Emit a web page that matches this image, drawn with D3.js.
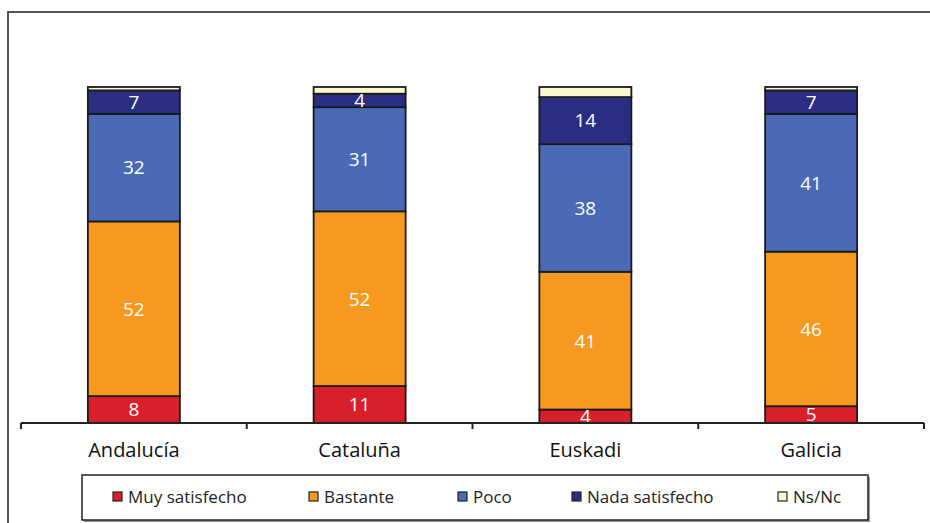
<!DOCTYPE html>
<html>
<head>
<meta charset="utf-8">
<script src="https://cdn.jsdelivr.net/npm/d3@7"></script>
<style>
  html, body { margin: 0; padding: 0; background: #fff; }
  svg { display: block; }
</style>
</head>
<body>
<svg id="chart" width="930" height="523"></svg>
<script>
const categories = ["Andalucía", "Cataluña", "Euskadi", "Galicia"];
const seriesNames = ["Muy satisfecho", "Bastante", "Poco", "Nada satisfecho", "Ns/Nc"];
const muySatisfecho = [8, 11, 4, 5];
const bastante = [52, 52, 41, 46];
const poco = [32, 31, 38, 41];
const nadaSatisfecho = [7, 4, 14, 7];
const nsNc = [1, 2, 3, 1];
const seriesColors = ["#d9202a", "#f7981f", "#4a6ab5", "#2b2d83", "#fbf7cf"];
const yTicks = [0, 100];

const seriesValues = [muySatisfecho, bastante, poco, nadaSatisfecho, nsNc];
const table = categories.map((c, i) => {
  const row = { cat: c };
  seriesNames.forEach((s, k) => row[s] = seriesValues[k][i]);
  return row;
});

const svg = d3.select("#chart");
const x0 = 21, x1 = 924, yBase = 423, yTop = 87;

const x = d3.scaleBand().domain(categories).range([x0, x1]).paddingInner(0).paddingOuter(0);
const y = d3.scaleLinear().domain(d3.extent(yTicks)).range([yBase, yTop]);
const barW = 92;

// outer frame
svg.append("path")
  .attr("d", `M8,523 L8,12 L930,12`)
  .attr("fill", "none").attr("stroke", "#555").attr("stroke-width", 2);

const stack = d3.stack().keys(seriesNames)(table);

const g = svg.append("g");
stack.forEach((layer, k) => {
  g.selectAll(null).data(layer).enter().append("rect")
    .attr("x", d => x(d.data.cat) + x.bandwidth() / 2 - barW / 2)
    .attr("y", d => y(d[1]))
    .attr("width", barW)
    .attr("height", d => y(d[0]) - y(d[1]))
    .attr("fill", seriesColors[k])
    .attr("stroke", "#1a1a1a")
    .attr("stroke-width", 1.8);
});

// value labels
stack.forEach((layer, k) => {
  if (seriesNames[k] === "Ns/Nc") return;
  g.selectAll(null).data(layer).enter().append("text")
    .attr("x", d => x(d.data.cat) + x.bandwidth() / 2)
    .attr("y", d => (y(d[0]) + y(d[1])) / 2)
    .attr("dy", "0.36em")
    .attr("text-anchor", "middle")
    .attr("fill", "#fff")
    .style("font-family", "'Open Sans', 'Noto Sans', sans-serif")
    .style("font-size", "19px")
    .text(d => d[1] - d[0]);
});

// x axis
const axis = d3.axisBottom(x).tickSize(0).tickFormat(d => d);
const ax = svg.append("g").attr("transform", `translate(0,${yBase})`).call(axis);
ax.select(".domain").attr("stroke", "#222").attr("stroke-width", 2).attr("d", `M${x0},0H${x1}`);
ax.selectAll(".tick text")
  .attr("y", 34)
  .attr("dy", 0)
  .attr("fill", "#111")
  .style("font-family", "'Open Sans', 'Noto Sans', sans-serif")
  .style("font-weight", "500")
  .style("font-size", "20px");
// boundary ticks
const bounds = categories.map(c => x(c)).concat([x(categories[categories.length - 1]) + x.bandwidth()]);
ax.selectAll(".btick").data(bounds).enter().append("line")
  .attr("class", "btick")
  .attr("x1", d => d).attr("x2", d => d)
  .attr("y1", 0).attr("y2", 6)
  .attr("stroke", "#222").attr("stroke-width", 2);

// legend
const lg = svg.append("g");
const lx = 82, ly = 475, lw = 786, lh = 45;
lg.append("rect").attr("x", lx + 2).attr("y", ly + 2).attr("width", lw).attr("height", lh)
  .attr("fill", "#999");
lg.append("rect").attr("x", lx).attr("y", ly).attr("width", lw).attr("height", lh)
  .attr("fill", "#fff").attr("stroke", "#222").attr("stroke-width", 1.5);
const legendX = [113, 309, 458, 572, 778];
seriesNames.forEach((s, k) => {
  lg.append("rect").attr("x", legendX[k]).attr("y", 492).attr("width", 9).attr("height", 9)
    .attr("fill", seriesColors[k]).attr("stroke", "#222").attr("stroke-width", 1.2);
  lg.append("text").attr("x", legendX[k] + 15).attr("y", 497).attr("dy", "0.35em")
    .attr("fill", "#222")
    .style("font-family", "'Open Sans', sans-serif")
    .style("font-size", "17px")
    .text(s);
});
</script>
</body>
</html>
